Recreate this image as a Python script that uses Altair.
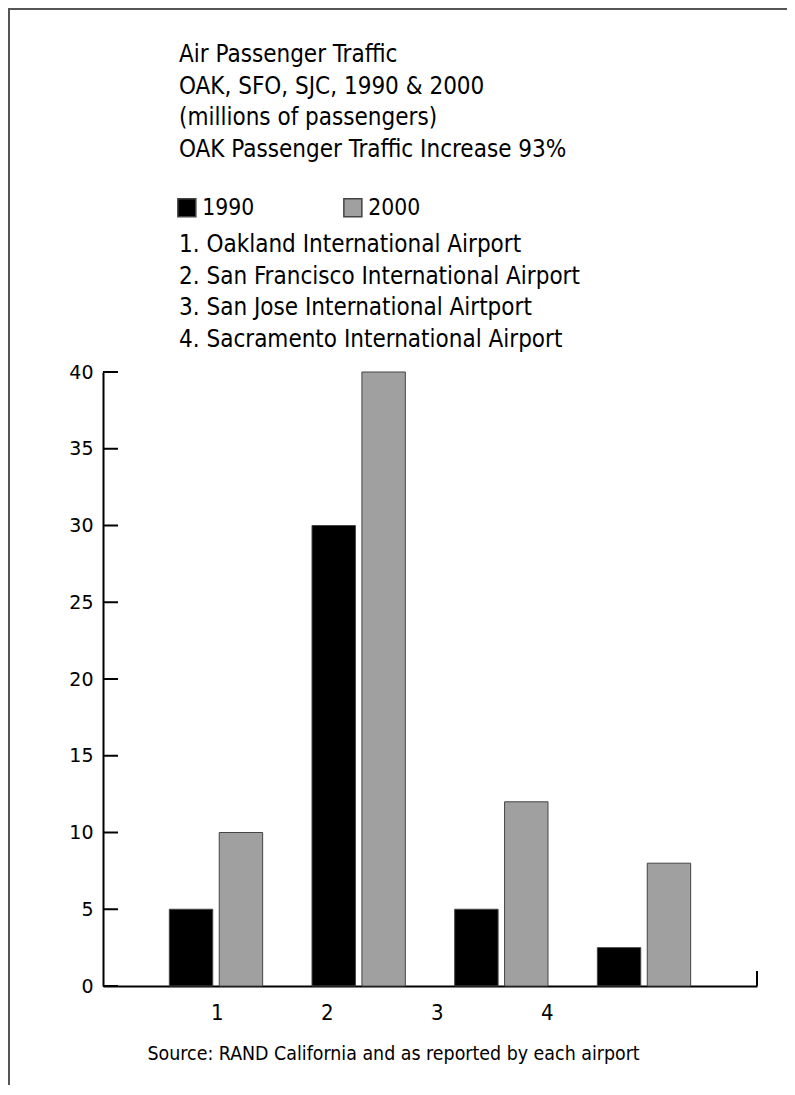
import altair as alt
import pandas as pd

# ---- data ----
airports = ["OAK", "SFO", "SJC", "SMF"]
years = ["1990", "2000"]
pax_1990 = [5, 30, 5, 2.5]
pax_2000 = [10, 40, 12, 8]
y_ticks = [0, 5, 10, 15, 20, 25, 30, 35, 40]
x_tick_labels = [1, 2, 3, 4]
title_lines = [
    "Air Passenger Traffic",
    "OAK, SFO, SJC, 1990 & 2000",
    "(millions of passengers)",
    "OAK Passenger Traffic Increase 93%",
]
airport_lines = [
    "1. Oakland International Airport",
    "2. San Francisco International Airport",
    "3. San Jose International Airtport",
    "4. Sacramento International Airport",
]
source_text = "Source: RAND California and as reported by each airport"

rows = []
for i, a in enumerate(airports):
    rows.append({"airport": a, "year": years[0], "value": pax_1990[i]})
    rows.append({"airport": a, "year": years[1], "value": pax_2000[i]})
df = pd.DataFrame(rows)
tick_df = pd.DataFrame({"tick": y_ticks})
xlab_df = pd.DataFrame({"pos": x_tick_labels, "label": [str(v) for v in x_tick_labels]})
one = pd.DataFrame({"a": [0]})

NARROW = "DejaVu Sans Condensed"
W, H = 654, 614
PAD = {"left": 95, "top": 364, "right": 30, "bottom": 99}

yscale = alt.Scale(domain=[0, 40], nice=False)
yaxis = alt.Axis(values=y_ticks, ticks=False, grid=False, domainColor="black",
                 domainWidth=2, labelFont="DejaVu Sans", labelFontSize=19,
                 labelPadding=10, labelColor="black", title=None)

bars = alt.Chart(df).mark_bar(stroke="#444444", strokeWidth=1).encode(
    x=alt.X("airport:N", sort=airports,
            scale=alt.Scale(paddingInner=0.346, paddingOuter=0.465),
            axis=alt.Axis(labels=False, ticks=False, domain=True, domainColor="black",
                          domainWidth=2, title=source_text, titleFont=NARROW,
                          titleFontSize=19.4, titleFontWeight="normal", titleColor="black",
                          titleX=44, titleY=73, titleAlign="left", titleAnchor="start",
                          titleBaseline="alphabetic")),
    xOffset=alt.XOffset("year:N", sort=years, scale=alt.Scale(paddingInner=0.13)),
    y=alt.Y("value:Q", scale=yscale, axis=yaxis),
    color=alt.Color("year:N", sort=years,
                    scale=alt.Scale(domain=years, range=["#000000", "#a0a0a0"]),
                    legend=alt.Legend(title=None, orient="none", legendX=72.5, legendY=-176,
                                      direction="horizontal", symbolType="square",
                                      symbolSize=324, symbolStrokeColor="#444444",
                                      symbolStrokeWidth=1.5, symbolOpacity=1,
                                      labelFont=NARROW, labelFontSize=22.7, labelColor="black",
                                      labelOffset=4, columnPadding=86, padding=0)),
)

yticks = alt.Chart(tick_df).mark_rule(color="black", strokeWidth=2).encode(
    y=alt.Y("tick:Q", scale=yscale, axis=yaxis),
    x=alt.value(0),
    x2=alt.value(15),
)

end_tick = alt.Chart(one).mark_rule(color="black", strokeWidth=2).encode(
    x=alt.value(W), y=alt.value(H - 15), y2=alt.value(H)
)

xlabels = alt.Chart(xlab_df).mark_text(font=NARROW, fontSize=22, color="black",
                                       align="center", baseline="middle").encode(
    x=alt.X("pos:Q", scale=alt.Scale(domain=[-0.038, 5.907], nice=False, zero=False), axis=None),
    y=alt.value(641),
    text="label:N",
)

title_text = alt.Chart(one).mark_text(font=NARROW, fontSize=24, color="black",
                                      align="left", baseline="alphabetic",
                                      lineHeight=31.7).encode(
    x=alt.value(76), y=alt.value(-310), text=alt.value(title_lines)
)

airport_text = alt.Chart(one).mark_text(font=NARROW, fontSize=24, color="black",
                                        align="left", baseline="alphabetic",
                                        lineHeight=31.7).encode(
    x=alt.value(76), y=alt.value(-120), text=alt.value(airport_lines)
)

frame_left = alt.Chart(one).mark_rule(color="#555555", strokeWidth=2).encode(
    x=alt.value(-PAD["left"] + 1), y=alt.value(-PAD["top"]), y2=alt.value(H + PAD["bottom"])
)
frame_top = alt.Chart(one).mark_rule(color="#555555", strokeWidth=2).encode(
    y=alt.value(-PAD["top"] + 1), x=alt.value(-PAD["left"]), x2=alt.value(W + PAD["right"])
)

chart = alt.layer(
    bars, yticks, end_tick, xlabels, title_text, airport_text, frame_left, frame_top
).resolve_scale(
    x="independent"
).properties(
    width=W, height=H,
    padding=PAD,
    autosize=alt.AutoSizeParams(type="none"),
).configure(background="white").configure_view(stroke=None)

chart.save("out.html", embed_options={"renderer": "svg", "actions": False})
